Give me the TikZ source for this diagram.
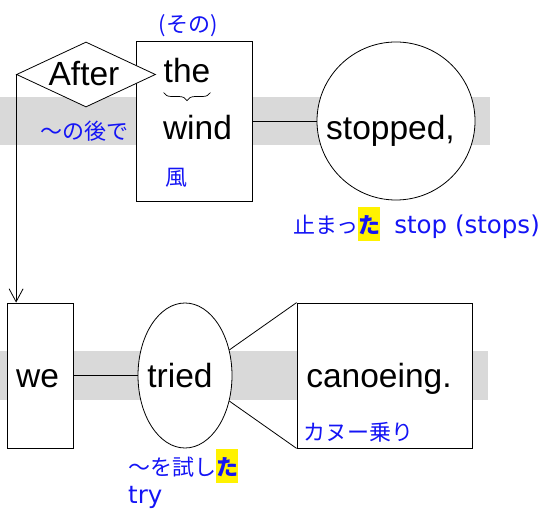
\documentclass[tikz,border=0pt]{standalone}
\usepackage{fontspec}
\setmainfont{Liberation Sans}
\newfontfamily\jpfont{Noto Sans CJK JP}
\newfontfamily\latfont{DejaVu Sans}
\usetikzlibrary{positioning,shapes.geometric,arrows.meta,decorations.pathreplacing}
\definecolor{jblue}{RGB}{20,20,245}
\newcommand\hilite[1]{{\setlength{\fboxsep}{0pt}\colorbox{yellow}{\rule[-0.33em]{0pt}{1.55em}\bfseries #1}}}

\begin{document}
\begin{tikzpicture}[x=1pt,y=-1pt,
band/.style={fill=black!15},
frame/.style={draw, fill=white, line width=0.8pt, inner sep=0pt},
word/.style={font=\fontsize{33.5}{40}\selectfont, inner sep=0pt},
gloss/.style={font=\jpfont\fontsize{22}{26}\selectfont, text=jblue, inner sep=0pt},
latgloss/.style={font=\latfont\fontsize{24.5}{30}\selectfont, text=jblue, inner sep=0pt},
line/.style={draw, line width=0.8pt},
arrow/.style={draw, line width=0.8pt, -{Straight Barb[length=13pt,width=14pt]}},
curly/.style={draw, line width=0.7pt, decorate, decoration={brace, mirror, amplitude=8pt}},
]
\useasboundingbox (0,0) rectangle (543,510);

\fill[band] (0,97) rectangle (490,145);
\fill[band] (0,351) rectangle (488,400);

\node[frame, rectangle, minimum width=116pt, minimum height=160pt] (windbox) at (194,121) {};
\node[frame, diamond, minimum width=139pt, minimum height=65pt] (after) at (86,74.5) {};
\node[frame, circle, minimum size=158pt] (stopped) at (396,121) {};
\node[frame, rectangle, minimum width=66pt, minimum height=145pt] (we) at (40,375.5) {};
\node[frame, ellipse, minimum width=94pt, minimum height=145pt] (tried) at (185,375.5) {};
\node[frame, rectangle, minimum width=175pt, minimum height=145pt] (canoe) at (384.5,375.5) {};

\node[word, anchor=base] (afterw) at (84,86) {After};
\node[word, anchor=base] (thew) at (187,83) {the};
\node[word, anchor=base] (windw) at (197.5,140) {wind};
\node[word, anchor=base] (stoppedw) at (390.5,140) {stopped,};
\node[word, anchor=base] (wew) at (37.5,387) {we};
\node[word, anchor=base] (triedw) at (180,387) {tried};
\node[word, anchor=base] (canoew) at (379,387) {canoeing.};

\node[gloss] (sono) at (188,26) {(その)};
\node[gloss] (noato) at (84,131) {～の後で};
\node[gloss] (kaze) at (176,178) {風};
\node[gloss, anchor=base west] (tomatta) at (293,234) {止まっ\hilite{た}\hspace{14pt}{\latfont\fontsize{24.5}{30}\selectfont stop (stops)}};
\node[gloss] (kanu) at (358,432) {カヌー乗り};
\node[gloss, anchor=base west] (tameshita) at (128,475.5) {～を試し\hilite{た}};
\node[latgloss, anchor=base west] (try) at (128,503) {try};

\draw[curly] ([yshift=-9pt]thew.south west) -- ([yshift=-9pt]thew.south east);

\path[line]
(windbox) edge (stopped)
(we) edge (tried)
(tried.30) edge (canoe.north west)
(tried.-30) edge (canoe.south west)
;
\draw[arrow] (after.west) -- (after.west |- we.north);
\end{tikzpicture}
\end{document}
